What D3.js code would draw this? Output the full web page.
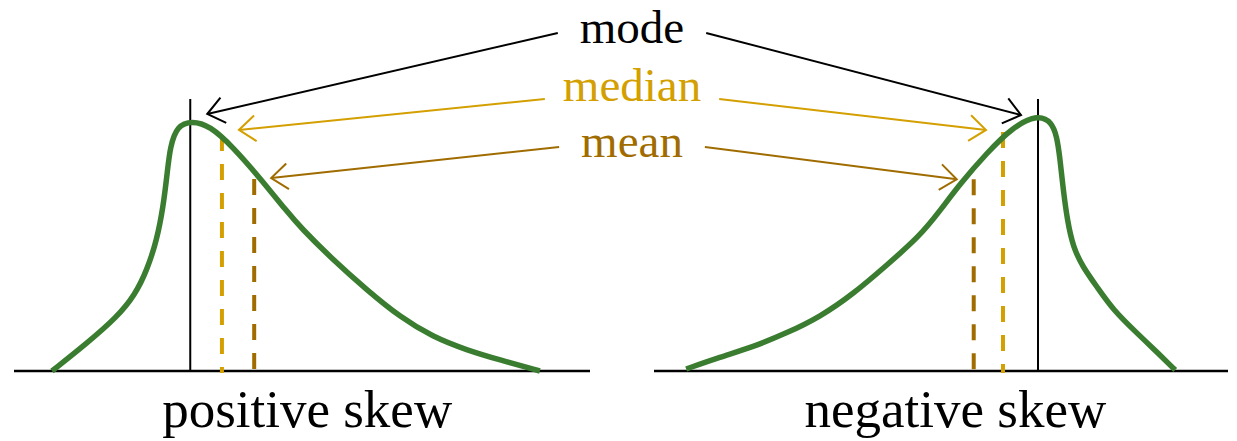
<!DOCTYPE html>
<html>
<head>
    <title>Skewness: mode, median and mean</title>
    <script src="https://d3js.org/d3.v7.min.js"></script>
    <style>
        body { margin: 0; background: #fff; }
        svg text { font-family: "Liberation Serif", "Times New Roman", serif; }
    </style>
</head>
<body>
    <script>
        // curve samples (x in 0..10, density with peak ~1)
        const leftX = [0.66, 1.27, 1.79, 2.10, 2.31, 2.48, 2.59, 2.66, 2.71, 2.83, 3.09, 3.40, 3.80, 4.27, 4.74, 4.97, 5.54, 6.13, 6.70, 7.27, 7.86, 8.44, 9.13];
        const leftY = [0, 0.112, 0.217, 0.305, 0.406, 0.526, 0.659, 0.795, 0.90, 0.985, 1.005, 0.985, 0.90, 0.775, 0.64, 0.578, 0.446, 0.325, 0.217, 0.137, 0.084, 0.044, 0];

        const rightX = [0.56, 1.15, 1.72, 2.32, 2.89, 3.47, 4.06, 4.63, 4.98, 5.33, 5.80, 6.25, 6.69, 6.93, 7.02, 7.07, 7.13, 7.20, 7.30, 7.47, 7.72, 8.00, 8.41, 8.69, 9.08];
        const rightY = [0.008, 0.056, 0.096, 0.153, 0.217, 0.309, 0.426, 0.542, 0.643, 0.751, 0.876, 0.98, 1.03, 1.0, 0.94, 0.859, 0.727, 0.606, 0.498, 0.418, 0.337, 0.245, 0.153, 0.092, 0.004];

        // mode, median, mean positions and the heights they reach
        const statNames = ["mode", "median", "mean"];
        const leftStats = [3.06, 3.61, 4.17];
        const leftStatTop = [1.0, 0.948, 0.771];
        const rightStats = [6.69, 6.08, 5.57];
        const rightStatTop = [1.02, 0.96, 0.77];
        const modeLineTop = 1.092;

        const panelTitles = ["positive skew", "negative skew"];

        // layout
        const width = 1237, height = 441;
        const baseY = 371, peakY = 122;
        const green = "#3b7d30";
        const statColors = ["#000000", "#d49f00", "#a06c00"];
        const labelCx = 632;
        const labelY = [43, 101, 157];
        const arrowStartY = [33, 99, 147];
        const arrowGap = [22, 18, 22];

        const svg = d3.select("body").append("svg")
            .attr("width", width)
            .attr("height", height);

        const defs = svg.append("defs");
        statColors.forEach((c, i) => {
            defs.append("marker")
                .attr("id", "arrow" + i)
                .attr("viewBox", "-20 -16 24 32")
                .attr("refX", 0)
                .attr("refY", 0)
                .attr("markerWidth", 24)
                .attr("markerHeight", 32)
                .attr("markerUnits", "userSpaceOnUse")
                .attr("orient", "auto")
              .append("path")
                .attr("d", "M-16.5,-12.9L0,0L-16.5,12.9")
                .attr("fill", "none")
                .attr("stroke", c)
                .attr("stroke-width", 2);
        });

        const yScale = d3.scaleLinear().domain([0, 1]).range([baseY, peakY]);

        const panels = [
            { x: d3.scaleLinear().domain([0, 10]).range([14, 590]), xs: leftX, ys: leftY,
              stats: leftStats, tops: leftStatTop, side: 1, tipDy: [-8, -5, -1], titleAt: 5.09 },
            { x: d3.scaleLinear().domain([0, 10]).range([654, 1228]), xs: rightX, ys: rightY,
              stats: rightStats, tops: rightStatTop, side: -1, tipDy: [-2, -2, 0], titleAt: 5.25 }
        ];

        // labels in the middle (drawn first so we can measure them)
        const labels = svg.append("g").selectAll("text")
            .data(statNames)
            .join("text")
            .attr("x", labelCx)
            .attr("y", (d, i) => labelY[i])
            .attr("text-anchor", "middle")
            .attr("font-size", 47)
            .attr("fill", (d, i) => statColors[i])
            .text(d => d);
        const halfW = labels.nodes().map(n => n.getComputedTextLength() / 2);

        panels.forEach((p, pi) => {
            const g = svg.append("g");

            // baseline
            g.append("line")
                .attr("x1", p.x.range()[0]).attr("x2", p.x.range()[1])
                .attr("y1", baseY).attr("y2", baseY)
                .attr("stroke", "#000").attr("stroke-width", 2.5);

            // mode line
            g.append("line")
                .attr("x1", p.x(p.stats[0])).attr("x2", p.x(p.stats[0]))
                .attr("y1", yScale(0)).attr("y2", yScale(modeLineTop))
                .attr("stroke", "#000").attr("stroke-width", 2);

            // median and mean dashes (drawn top down)
            g.selectAll(".stat")
                .data([1, 2])
                .join("line")
                .attr("class", "stat")
                .attr("x1", i => p.x(p.stats[i])).attr("x2", i => p.x(p.stats[i]))
                .attr("y1", i => yScale(p.tops[i])).attr("y2", yScale(0) + 2)
                .attr("stroke", i => statColors[i])
                .attr("stroke-width", 4)
                .attr("stroke-dasharray", "16,13");

            // density curve
            const pts = p.xs.map((v, i) => [v, p.ys[i]]);
            const line = d3.line()
                .x(d => p.x(d[0]))
                .y(d => yScale(d[1]))
                .curve(d3.curveBasis);
            g.append("path")
                .attr("d", line(pts))
                .attr("fill", "none")
                .attr("stroke", green)
                .attr("stroke-width", 5.5);

            // arrows from labels
            statNames.forEach((name, i) => {
                const sx = labelCx - p.side * (halfW[i] + arrowGap[i]);
                const tx = p.x(p.stats[i]) + p.side * 17;
                const ty = yScale(p.tops[i]) + p.tipDy[i];
                g.append("line")
                    .attr("x1", sx).attr("y1", arrowStartY[i])
                    .attr("x2", tx).attr("y2", ty)
                    .attr("stroke", statColors[i])
                    .attr("stroke-width", 2)
                    .attr("marker-end", `url(#arrow${i})`);
            });

            // panel title
            g.append("text")
                .attr("x", p.x(p.titleAt))
                .attr("y", 427)
                .attr("text-anchor", "middle")
                .attr("font-size", 53)
                .attr("fill", "#000")
                .text(panelTitles[pi]);
        });
    </script>
</body>
</html>
